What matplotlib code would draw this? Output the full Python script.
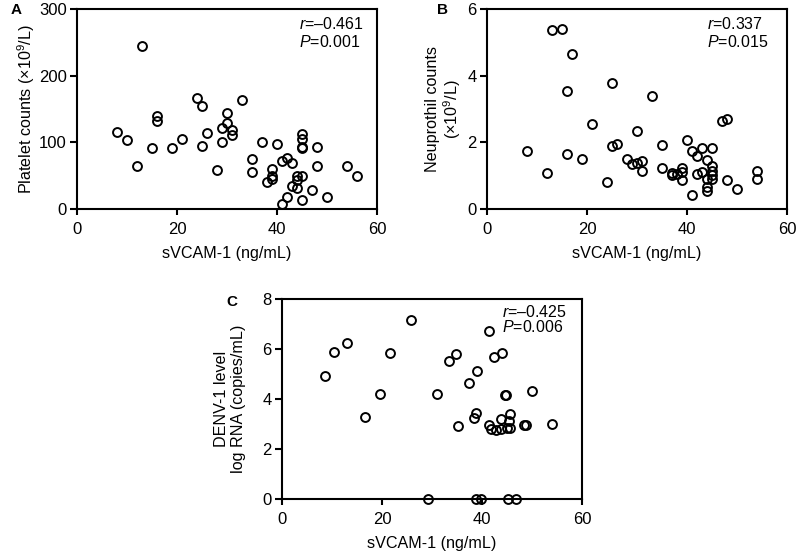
import matplotlib
matplotlib.use("Agg")
import matplotlib.pyplot as plt

plt.rcParams['font.family'] = ['Liberation Sans', 'DejaVu Sans']
plt.rcParams['mathtext.fontset'] = 'custom'
plt.rcParams['mathtext.rm'] = 'Liberation Sans'
plt.rcParams['mathtext.it'] = 'Liberation Sans:italic'

# panel A: sVCAM-1 vs platelet counts
a_x = [8, 10, 12, 13, 15, 16, 16, 19, 21, 24, 25, 25, 26, 28, 29, 29, 30, 30,
       31, 31, 33, 35, 35, 37, 38, 39, 39, 39, 40, 41, 41, 42, 42, 43, 43, 44,
       44, 44, 45, 45, 45, 45, 45, 45, 47, 48, 48, 50, 54, 56]
a_y = [116, 104, 65, 245, 91, 139, 132, 92, 105, 167, 154, 95, 114, 59, 122,
       101, 144, 129, 119, 111, 164, 75, 56, 101, 40, 60, 50, 45, 97, 72, 8,
       77, 18, 69, 34, 50, 44, 31, 112, 105, 93, 91, 49, 13, 28, 93, 64, 18,
       64, 50]

# panel B: sVCAM-1 vs neutrophil counts
b_x = [13, 15, 17, 16, 25, 21, 8, 16, 19, 12, 24, 25, 26, 28, 29, 30, 30, 31,
       31, 33, 35, 35, 37, 37, 38, 39, 39, 39, 40, 41, 42, 43, 45, 44, 45, 42,
       43, 45, 45, 45, 44, 44, 44, 41, 47, 48, 48, 50, 54, 54]
b_y = [5.36, 5.40, 4.64, 3.55, 3.78, 2.54, 1.74, 1.66, 1.51, 1.09, 0.82, 1.89,
       1.94, 1.51, 1.36, 2.35, 1.39, 1.43, 1.15, 3.40, 1.93, 1.24, 1.08, 1.03,
       1.05, 1.11, 1.24, 0.87, 2.08, 1.74, 1.60, 1.84, 1.83, 1.46, 1.30, 1.06,
       1.11, 1.13, 1.01, 0.89, 0.91, 0.66, 0.53, 0.41, 2.63, 2.69, 0.86, 0.60,
       1.13, 0.89]

# panel C: sVCAM-1 vs DENV-1 RNA level
c_x = [8.5, 10.4, 13, 16.5, 19.5, 21.5, 25.7, 29.1, 31.0, 33.3, 34.7, 35.1,
       37.3, 38.7, 38.3, 39.0, 41.4, 42.4, 43.9, 41.3, 41.8, 42.7, 43.7, 44.9,
       43.7, 44.5, 44.8, 45.3, 45.5, 45.5, 48.3, 48.7, 50.0, 54.0, 38.8, 39.7,
       45.1, 46.7]
c_y = [4.93, 5.87, 6.25, 3.29, 4.20, 5.85, 7.16, 0, 4.21, 5.53, 5.80, 2.91,
       4.66, 3.45, 3.24, 5.13, 6.74, 5.69, 5.85, 2.97, 2.79, 2.75, 2.79, 2.84,
       3.19, 4.17, 4.17, 3.12, 3.41, 2.86, 2.95, 2.97, 4.31, 3.00, 0, 0, 0, 0]

W, H = 798, 552
fig = plt.figure(figsize=(W / 100, H / 100), dpi=100)


def panel(rect, xs, ys, ylim, yticks, ylabel, ypad, letter, stats, letter_pos, stat_pos, ygap):
    ax = fig.add_axes([rect[0] / W, 1 - rect[3] / H, (rect[2] - rect[0]) / W,
                       (rect[3] - rect[1]) / H])
    ax.plot(xs, ys, 'o', ms=6.4, mfc='none', mec='black', mew=1.4, clip_on=False)
    ax.set_xlim(0, 60)
    ax.set_ylim(*ylim)
    ax.set_xticks([0, 20, 40, 60])
    ax.set_yticks(yticks)
    for s in ax.spines.values():
        s.set_linewidth(1.5)
    ax.tick_params(axis='x', direction='out', length=4.5, width=1.5, labelsize=12, pad=4.5)
    ax.tick_params(axis='y', direction='out', length=5, width=1.5, labelsize=12, pad=2.5)
    ax.set_xlabel('sVCAM-1 (ng/mL)', fontsize=11.6, labelpad=7)
    ax.set_ylabel(ylabel, fontsize=11.6, labelpad=ypad, linespacing=1.1)
    fig.text(letter_pos[0] / W, 1 - letter_pos[1] / H, letter, fontsize=11,
             fontweight='bold', ha='center', va='center')
    fig.text(stat_pos[0] / W, 1 - stat_pos[1] / H, stats[0], fontsize=11.5,
             ha='left', va='center')
    fig.text(stat_pos[0] / W, 1 - (stat_pos[1] + ygap) / H, stats[1], fontsize=11.5,
             ha='left', va='center')
    return ax


panel((77, 9, 377, 209), a_x, a_y, (0, 300), [0, 100, 200, 300],
      'Platelet counts (×10$^{9}$/L)', 1, 'A', ('$r$=–0.461', '$P$=0.001'),
      (16, 10), (299, 24), 18)
panel((487, 9, 787, 209), b_x, b_y, (0, 6), [0, 2, 4, 6],
      'Neuprothil counts\n(×10$^{9}$/L)', 3, 'B', ('$r$=0.337', '$P$=0.015'),
      (443, 10), (707, 24), 18)
panel((282, 299, 582, 499), c_x, c_y, (0, 8), [0, 2, 4, 6, 8],
      'DENV-1 level\nlog RNA (copies/mL)', 12, 'C', ('$r$=–0.425', '$P$=0.006'),
      (232, 302), (502, 312), 15)

fig.savefig('out.png', dpi=100)
